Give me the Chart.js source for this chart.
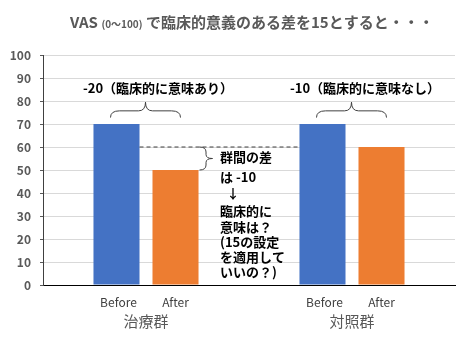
<!DOCTYPE html>
<html>
<head>
<meta charset="utf-8">
<script src="https://cdn.jsdelivr.net/npm/chart.js@4"></script>
<style>
  body { margin: 0; background: #fff; }
  #wrap { width: 470px; height: 352px; }
</style>
</head>
<body>
<div id="wrap"><canvas id="vas-chart" width="470" height="352"></canvas></div>
<script>
const groups = ["治療群", "対照群"];
const subLabels = ["Before", "After"];
const beforeValues = [70, 70];
const afterValues = [50, 60];
const yTicks = { min: 0, max: 100, step: 10 };

const titleParts = ["VAS ", "(0〜100)", " で臨床的意義のある差を15とすると・・・"];
const groupNotes = ["-20（臨床的に意味あり）", "-10（臨床的に意味なし）"];
const sideNote = ["群間の差", "は -10", "↓", "臨床的に", "意味は？", "(15の設定", "を適用して", "いいの？)"];

const FONT = "'Noto Sans CJK JP', 'Noto Sans', sans-serif";

// horizontal curly brace, tip pointing up
function hBrace(ctx, x1, x2, yb, yt) {
  const xm = (x1 + x2) / 2;
  const ym = (yb + yt) / 2 + 1;
  ctx.beginPath();
  ctx.moveTo(x1, yb);
  ctx.quadraticCurveTo(x1, ym, x1 + 9, ym);
  ctx.lineTo(xm - 7, ym);
  ctx.quadraticCurveTo(xm, ym, xm, yt);
  ctx.quadraticCurveTo(xm, ym, xm + 7, ym);
  ctx.lineTo(x2 - 9, ym);
  ctx.quadraticCurveTo(x2, ym, x2, yb);
  ctx.stroke();
}

// vertical curly brace, tip pointing right
function vBrace(ctx, x, y1, y2, xt) {
  const ym = (y1 + y2) / 2;
  const xm = (x + xt) / 2;
  ctx.beginPath();
  ctx.moveTo(x, y1);
  ctx.quadraticCurveTo(xm, y1, xm, y1 + 5);
  ctx.lineTo(xm, ym - 4);
  ctx.quadraticCurveTo(xm, ym, xt, ym);
  ctx.quadraticCurveTo(xm, ym, xm, ym + 4);
  ctx.lineTo(xm, y2 - 5);
  ctx.quadraticCurveTo(xm, y2, x, y2);
  ctx.stroke();
}

const notesPlugin = {
  id: "notes",
  afterDraw(chart) {
    const ctx = chart.ctx;
    const y = chart.scales.y;
    const mB = chart.getDatasetMeta(0).data;
    const mA = chart.getDatasetMeta(1).data;
    ctx.save();

    // title
    ctx.fillStyle = "#595959";
    ctx.textBaseline = "alphabetic";
    ctx.textAlign = "left";
    const big = "bold 15px " + FONT;
    const small = "bold 10px " + FONT;
    let tx = 70;
    titleParts.forEach((t, i) => {
      ctx.font = i === 1 ? small : big;
      ctx.fillText(t, tx, 28);
      tx += ctx.measureText(t).width;
    });

    // sub labels under bars
    ctx.fillStyle = "#404040";
    ctx.font = "12px " + FONT;
    ctx.textAlign = "center";
    ctx.textBaseline = "middle";
    for (let i = 0; i < groups.length; i++) {
      ctx.fillText(subLabels[0], mB[i].x + 2, 302);
      ctx.fillText(subLabels[1], mA[i].x, 302);
    }

    // group notes + braces
    ctx.fillStyle = "#000";
    ctx.font = "bold 13px " + FONT;
    ctx.textAlign = "center";
    const noteShift = [12, 13];
    groups.forEach((g, i) => {
      const cx = (mB[i].x + mA[i].x) / 2;
      ctx.fillText(groupNotes[i], cx + noteShift[i], y.getPixelForValue(85.5));
    });
    ctx.strokeStyle = "#404040";
    ctx.lineWidth = 1;
    groups.forEach((g, i) => {
      hBrace(ctx, mB[i].x - 6, mA[i].x + 5, y.getPixelForValue(72.8), y.getPixelForValue(79.5));
    });

    // dashed reference line at control group level
    const yRef = y.getPixelForValue(beforeValues[0] - 10);
    ctx.setLineDash([4, 3]);
    ctx.beginPath();
    ctx.moveTo(mB[0].x + mB[0].width / 2, yRef);
    ctx.lineTo(mB[1].x - mB[1].width / 2, yRef);
    ctx.stroke();
    ctx.setLineDash([]);

    // vertical brace between 60 and 50
    const bx = mA[0].x + mA[0].width / 2 + 1;
    vBrace(ctx, bx, y.getPixelForValue(afterValues[1]), y.getPixelForValue(afterValues[0]), bx + 13);

    // side note
    ctx.font = "bold 13px " + FONT;
    ctx.textAlign = "left";
    const lineY = [157, 177, 193, 211, 227, 242, 257, 272];
    sideNote.forEach((t, i) => {
      if (t === "↓") {
        ctx.textAlign = "center";
        ctx.fillText(t, 233, lineY[i]);
        ctx.textAlign = "left";
      } else {
        ctx.fillText(t, 220, lineY[i]);
      }
    });
    ctx.restore();
  },
};

new Chart(document.getElementById("vas-chart").getContext("2d"), {
  type: "bar",
  data: {
    labels: groups,
    datasets: [
      {
        label: subLabels[0],
        data: beforeValues,
        backgroundColor: "#4472C4",
        categoryPercentage: 0.573,
        barPercentage: 0.78,
      },
      {
        label: subLabels[1],
        data: afterValues,
        backgroundColor: "#ED7D31",
        categoryPercentage: 0.573,
        barPercentage: 0.78,
      },
    ],
  },
  options: {
    responsive: false,
    animation: false,
    layout: { padding: { top: 55, right: 15, left: 0, bottom: 0 } },
    plugins: {
      legend: { display: false },
      tooltip: { enabled: false },
    },
    scales: {
      x: {
        grid: { display: false, drawTicks: false },
        border: { display: true, color: "#000", width: 1 },
        ticks: {
          color: "#595959",
          padding: 27,
          font: { size: 15, family: FONT },
        },
        afterFit(scale) {
          scale.height = 67;
        },
      },
      y: {
        min: yTicks.min,
        max: yTicks.max,
        grid: { color: "#d9d9d9", tickLength: 3, tickColor: "#595959" },
        border: { display: true, color: "#404040", width: 1 },
        ticks: {
          stepSize: yTicks.step,
          color: "#595959",
          padding: 9,
          font: { size: 12, weight: "bold", family: FONT },
        },
        afterFit(scale) {
          scale.width = 43;
        },
      },
    },
  },
  plugins: [notesPlugin],
});
</script>
</body>
</html>
